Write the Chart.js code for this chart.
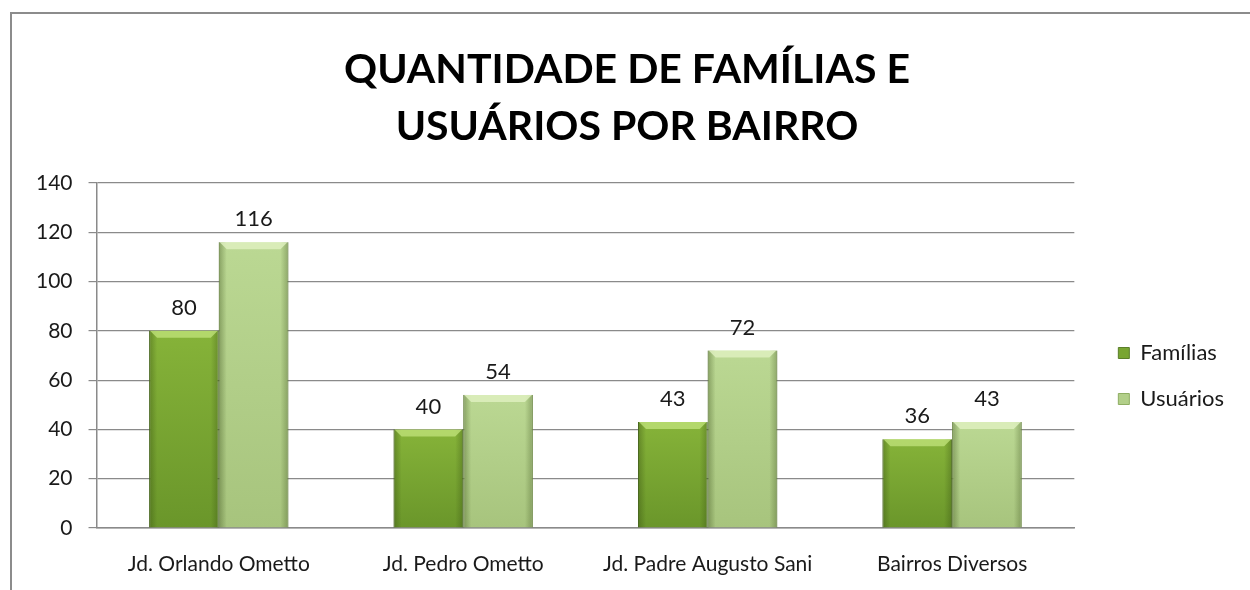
<!DOCTYPE html>
<html>
<head>
<meta charset="utf-8">
<script src="https://cdn.jsdelivr.net/npm/chart.js@4.4.1/dist/chart.umd.min.js"></script>
<style>
  html, body { margin: 0; padding: 0; background: #fff; overflow: hidden; }
  #frame {
    position: absolute; left: 10px; top: 12px;
    width: 1238px; height: 576px;
    border-left: 2px solid #8c8c8c; border-top: 2px solid #8c8c8c;
  }
  #chart { display: block; }
</style>
</head>
<body>
<div id="frame"><canvas id="chart" width="1238" height="576"></canvas></div>
<script>
const categories = ["Jd. Orlando Ometto", "Jd. Pedro Ometto", "Jd. Padre Augusto Sani", "Bairros Diversos"];
const familias = [80, 40, 43, 36];
const usuarios = [116, 54, 72, 43];
const yTicks = [0, 20, 40, 60, 80, 100, 120, 140];

const CAT_PCT = 0.57;
const FONT = "Lato, 'Open Sans', sans-serif";

// top-to-bottom shading of each bar
function barFill(top, bottom) {
  return (ctx) => {
    const y = ctx.chart.scales.y;
    if (!y || ctx.raw === undefined) return top;
    const y0 = y.getPixelForValue(ctx.raw), y1 = y.getPixelForValue(0);
    if (!isFinite(y0) || !isFinite(y1) || y1 <= y0) return top;
    const g = ctx.chart.ctx.createLinearGradient(0, y0, 0, y1);
    g.addColorStop(0, top);
    g.addColorStop(1, bottom);
    return g;
  };
}

const bevelAndLabels = {
  id: "bevelAndLabels",
  afterDatasetsDraw(chart) {
    const c = chart.ctx;
    const tops = ["rgba(190,225,120,0.8)", "rgba(222,240,190,0.85)"];
    chart.data.datasets.forEach((ds, di) => {
      chart.getDatasetMeta(di).data.forEach((bar, i) => {
        const w = bar.width;
        const l = bar.x - w / 2, r = bar.x + w / 2;
        const h = bar.base - bar.y;
        c.save();
        // darker side edges
        let g = c.createLinearGradient(l, 0, l + 8, 0);
        g.addColorStop(0, "rgba(40,60,10,0.35)");
        g.addColorStop(1, "rgba(40,60,10,0)");
        c.fillStyle = g;
        c.fillRect(l, bar.y, 8, h);
        g = c.createLinearGradient(r - 8, 0, r, 0);
        g.addColorStop(0, "rgba(40,60,10,0)");
        g.addColorStop(1, "rgba(40,60,10,0.3)");
        c.fillStyle = g;
        c.fillRect(r - 8, bar.y, 8, h);
        // top bevel
        c.fillStyle = tops[di];
        c.beginPath();
        c.moveTo(l + 1, bar.y);
        c.lineTo(r - 1, bar.y);
        c.lineTo(r - 8, bar.y + 7);
        c.lineTo(l + 8, bar.y + 7);
        c.closePath();
        c.fill();
        // value label
        c.fillStyle = "#1a1a1a";
        c.font = "22px " + FONT;
        c.textAlign = "center";
        c.textBaseline = "bottom";
        c.fillText(ds.data[i], bar.x, bar.y - 12);
        c.restore();
      });
    });
  }
};

new Chart(document.getElementById("chart"), {
  type: "bar",
  data: {
    labels: categories,
    datasets: [
      {
        label: "Famílias",
        data: familias,
        backgroundColor: barFill("#86b339", "#6a962a"),
        borderColor: "#5b7f2a",
        borderWidth: { left: 1, right: 1, top: 0, bottom: 0 },
      },
      {
        label: "Usuários",
        data: usuarios,
        backgroundColor: barFill("#bbd893", "#a7c47d"),
        borderColor: "#8fae63",
        borderWidth: { left: 1, right: 1, top: 0, bottom: 0 },
      },
    ],
  },
  options: {
    responsive: false,
    animation: false,
    categoryPercentage: CAT_PCT,
    barPercentage: 1,
    layout: { padding: { top: 0, right: 16, bottom: 0, left: 8 } },
    plugins: {
      title: {
        display: true,
        text: ["QUANTIDADE DE FAMÍLIAS E", "USUÁRIOS POR BAIRRO"],
        color: "#000",
        font: { family: FONT, size: 41, weight: "bold", lineHeight: 1.39 },
        padding: { top: 27, bottom: 28 },
      },
      legend: {
        position: "right",
        title: { display: true, text: " ", font: { size: 20 }, padding: { top: 0, bottom: 124 } },
        labels: {
          color: "#1a1a1a",
          font: { family: FONT, size: 22 },
          boxWidth: 11,
          boxHeight: 11,
          padding: 24,
          generateLabels: (chart) => chart.data.datasets.map((ds, i) => ({
            text: ds.label,
            fillStyle: i === 0 ? "#78a531" : "#b2cf89",
            strokeStyle: i === 0 ? "#5b7f2a" : "#8fae63",
            lineWidth: 1,
            fontColor: "#1a1a1a",
            datasetIndex: i,
          })),
        },
      },
      tooltip: { enabled: false },
    },
    scales: {
      x: {
        grid: { display: false, drawTicks: false },
        border: { color: "#8a8a8a", width: 1.5 },
        ticks: { color: "#1a1a1a", font: { family: FONT, size: 21, lineHeight: 1 }, padding: 26 },
        afterFit: (s) => { s.height = 62; },
      },
      y: {
        min: 0,
        max: 140,
        afterBuildTicks: (axis) => { axis.ticks = yTicks.map((v) => ({ value: v })); },
        grid: { color: "#8a8a8a", lineWidth: 1.2, tickLength: 8 },
        border: { color: "#8a8a8a", width: 1.5 },
        ticks: { color: "#1a1a1a", font: { family: FONT, size: 21 }, padding: 16 },
      },
      // empty spacer between plot and legend
      gap: {
        type: "linear",
        position: "right",
        grid: { display: false },
        border: { display: false },
        ticks: { display: false },
        afterFit: (s) => { s.width = 20; },
      },
    },
  },
  plugins: [bevelAndLabels],
});
</script>
</body>
</html>
